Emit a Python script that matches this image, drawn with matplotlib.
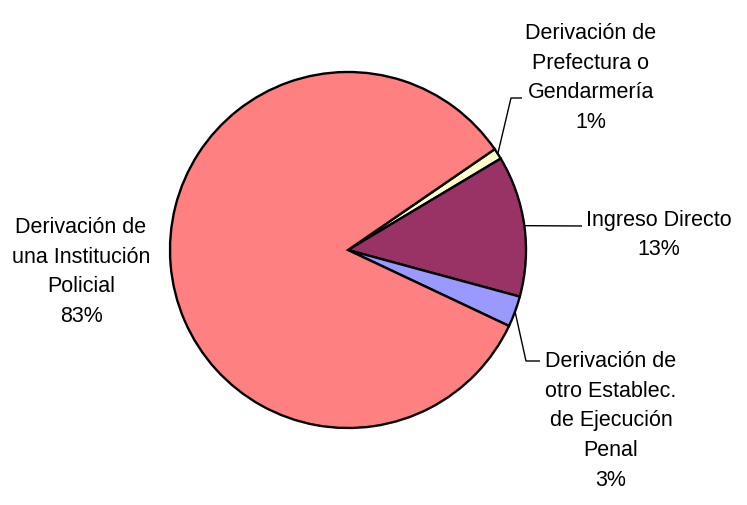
import numpy as np
import matplotlib
matplotlib.use("Agg")
import matplotlib.pyplot as plt

plt.rcParams['font.family'] = ['Liberation Sans', 'DejaVu Sans']

# data (clockwise from the small yellow slice)
labels = ['Derivación de\nPrefectura o\nGendarmería',
          'Ingreso Directo',
          'Derivación de\notro Establec.\nde Ejecución\nPenal',
          'Derivación de\nuna Institución\nPolicial']
shares = [1.0, 12.8, 2.8, 83.4]
pct_text = ['1%', '13%', '3%', '83%']
colors = ['#FFFFCC', '#993366', '#9999FF', '#FF8080']

W, H = 747, 506
fig = plt.figure(figsize=(W / 100, H / 100), dpi=100)
ax = fig.add_axes([0, 0, 1, 1])

cx, cy, r = 348, H - 251, 178
wedges, _ = ax.pie(shares, colors=colors, startangle=34.5, counterclock=False,
                   center=(cx, cy), radius=r, frame=True,
                   wedgeprops=dict(edgecolor='black', linewidth=1.7))
ax.set_xlim(0, W)
ax.set_ylim(0, H)
ax.set_aspect('equal')
ax.axis('off')

def edge_point(w):
    a = np.deg2rad((w.theta1 + w.theta2) / 2)
    return cx + r * np.cos(a), cy + r * np.sin(a)

# label text positions (centre of each block) and leader elbows, in pixels
text_pos = [(591, H - 78), (659, H - 235), (611, H - 421), (81, H - 272)]
elbows = [[(511, H - 99), (522, H - 99)],
          [(582, H - 227)],
          [(526, H - 362), (540, H - 362)],
          None]

for i, w in enumerate(wedges):
    ax.text(text_pos[i][0], text_pos[i][1], labels[i] + '\n' + pct_text[i],
            ha='center', va='center', fontsize=15.5, linespacing=1.55)
    if elbows[i]:
        p0 = edge_point(w)
        xs = [p0[0]] + [p[0] for p in elbows[i]]
        ys = [p0[1]] + [p[1] for p in elbows[i]]
        ax.plot(xs, ys, color='black', lw=1.0, solid_capstyle='butt')

fig.savefig('out.png', dpi=100)
